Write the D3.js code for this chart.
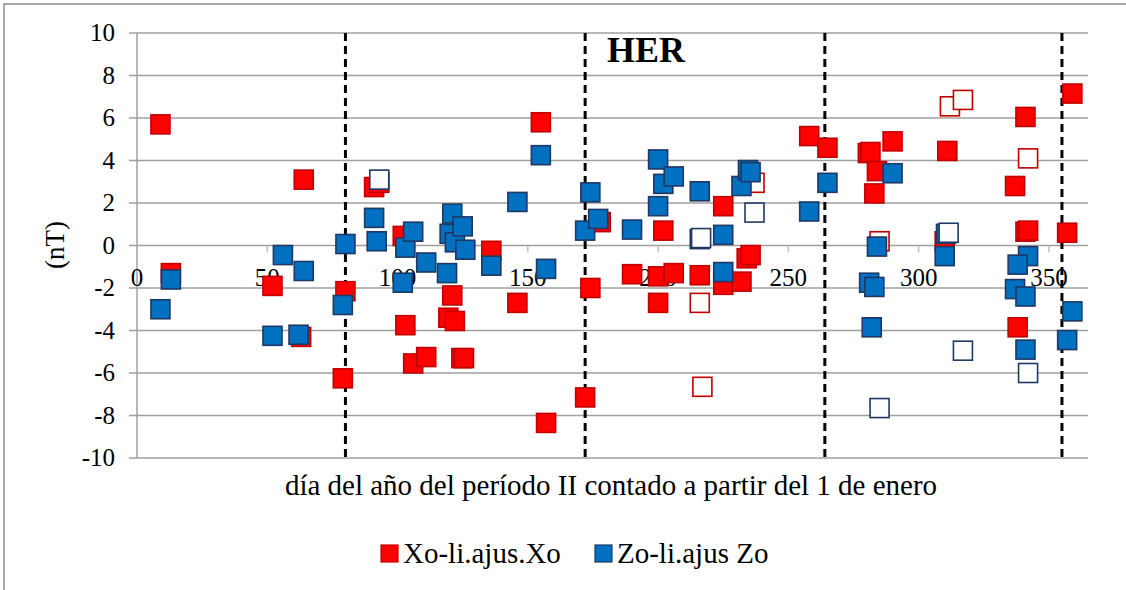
<!DOCTYPE html>
<html>
<head>
<meta charset="utf-8">
<script src="https://cdn.jsdelivr.net/npm/d3@7"></script>
<style>
  body { margin: 0; background: #fff; }
  text { font-family: "Liberation Serif", "Times New Roman", serif; }
</style>
</head>
<body>
<svg id="chart" width="1126" height="590"></svg>
<script>
// values (day of year, nT)
var xoDays = [9, 13, 52, 64, 63, 79, 80, 91, 93, 102, 103, 106, 111, 121, 119.5, 122, 124.5, 125.5, 136, 146,
  155, 157, 172, 174, 178, 190, 202, 200, 206, 200, 216, 225, 225, 232, 234, 235.5, 258, 265, 280.5, 281.5,
  290, 284, 283, 311, 310, 341, 337, 341, 342, 338, 357, 359];
var xoVals = [5.7, -1.3, -1.9, 3.1, -4.3, -6.25, -2.15, 2.75, 2.95, 0.45, -3.75, -5.55, -5.25, -2.35, -3.4, -3.55, -5.3, -5.3, -0.25, -2.7,
  5.8, -8.35, -7.15, -2.0, 1.1, -1.35, 0.7, -1.45, -1.3, -2.7, -1.4, 1.85, -1.85, -1.7, -0.6, -0.45, 5.15, 4.6, 4.35, 4.4,
  4.9, 3.5, 2.45, 4.45, 0.2, 6.05, 2.8, 0.65, 0.7, -3.85, 0.6, 7.15];
var xoHollowDays = [216, 217, 237, 285, 312, 317, 342];
var xoHollowVals = [-2.7, -6.65, 2.95, 0.2, 6.55, 6.85, 4.1];

var zoDays = [9, 13, 52, 56, 64, 62, 79, 80, 91, 92, 103, 106, 102, 111, 121, 120, 122, 125, 126, 119,
  136, 146, 155, 157, 174, 172, 177, 190, 200, 202, 206, 200, 216, 225, 225, 232, 234.5, 235.5, 258, 265,
  290, 284, 281, 283, 282, 310.5, 310, 342, 338, 337, 341, 341, 359, 357];
var zoVals = [-3.0, -1.6, -4.25, -0.45, -1.2, -4.2, -2.8, 0.07, 1.3, 0.2, -0.1, 0.65, -1.75, -0.8, 1.5, 0.55, 0.15, 0.9, -0.2, -1.3,
  -0.95, 2.05, 4.25, -1.1, 2.5, 0.7, 1.25, 0.75, 4.05, 2.9, 3.25, 1.85, 2.55, 0.5, -1.25, 2.8, 3.55, 3.45, 1.6, 2.95,
  3.4, -0.05, -1.75, -1.95, -3.85, 0.55, -0.5, -0.5, -0.9, -2.05, -2.4, -4.9, -3.1, -4.45];
var zoHollowDays = [93, 216, 216.5, 237, 285, 311.5, 317, 342];
var zoHollowVals = [3.1, 0.3, 0.35, 1.55, -7.65, 0.6, -4.95, -6.0];

var periodLines = [80, 172, 264, 355];
var xTicks = [0, 50, 100, 150, 200, 250, 300, 350];
var yTicks = [-10, -8, -6, -4, -2, 0, 2, 4, 6, 8, 10];
var seriesNames = ["Xo-li.ajus.Xo", "Zo-li.ajus Zo"];

var svg = d3.select("#chart");
var gridColor = "#a0a0a0";
var red = "#ff0000", redEdge = "#c00000", blue = "#0070c0", blueEdge = "#1f3864";
var ms = 19;

// outer frame (only the left and top edges show)
svg.append("rect").attr("x", 4).attr("y", 4).attr("width", 1140).attr("height", 600)
  .attr("fill", "none").attr("stroke", "#8c8c8c").attr("stroke-width", 1.5);

var x = d3.scaleLinear().domain([0, 365]).range([137, 1088]);
var y = d3.scaleLinear().domain([-10, 10]).range([458, 33]);

// horizontal grid + y axis ticks
svg.append("g").selectAll("line").data(yTicks).enter().append("line")
  .attr("x1", 129).attr("x2", x(365))
  .attr("y1", function(d) { return y(d); }).attr("y2", function(d) { return y(d); })
  .attr("stroke", gridColor).attr("stroke-width", 1.5);

svg.append("line").attr("x1", x(0)).attr("x2", x(0)).attr("y1", y(10)).attr("y2", y(-10))
  .attr("stroke", gridColor).attr("stroke-width", 1.5);

svg.append("g").selectAll("text").data(yTicks).enter().append("text")
  .attr("x", 115).attr("y", function(d) { return y(d) + 8; })
  .attr("text-anchor", "end").attr("font-size", 25)
  .text(function(d) { return d; });

// x axis crosses at 0: small tick marks below, labels under it
svg.append("g").selectAll("line").data(xTicks.slice(1)).enter().append("line")
  .attr("x1", function(d) { return x(d); }).attr("x2", function(d) { return x(d); })
  .attr("y1", y(0)).attr("y2", y(0) + 7)
  .attr("stroke", "#c0c0c0").attr("stroke-width", 1.5);

svg.append("g").selectAll("text").data(xTicks).enter().append("text")
  .attr("x", function(d) { return x(d); }).attr("y", 286)
  .attr("text-anchor", "middle").attr("font-size", 25)
  .text(function(d) { return d; });

// dashed period separators
svg.append("g").selectAll("line").data(periodLines).enter().append("line")
  .attr("x1", function(d) { return x(d); }).attr("x2", function(d) { return x(d); })
  .attr("y1", y(10)).attr("y2", y(-10))
  .attr("stroke", "#000").attr("stroke-width", 3).attr("stroke-dasharray", "8,5");

function drawSquares(days, vals, fill, edge) {
  svg.append("g").selectAll("rect").data(days).enter().append("rect")
    .attr("x", function(d) { return x(d) - ms / 2; })
    .attr("y", function(d, i) { return y(vals[i]) - ms / 2; })
    .attr("width", ms).attr("height", ms)
    .attr("fill", fill).attr("stroke", edge).attr("stroke-width", 1.6);
}

drawSquares(xoDays, xoVals, red, redEdge);
drawSquares(xoHollowDays, xoHollowVals, "#fff", redEdge);
drawSquares(zoDays, zoVals, blue, blueEdge);
drawSquares(zoHollowDays, zoHollowVals, "#fff", blueEdge);

// texts
svg.append("text").attr("x", 646).attr("y", 62).attr("text-anchor", "middle")
  .attr("font-size", 36).attr("font-weight", "bold").text("HER");

svg.append("text").attr("transform", "translate(64,245)rotate(-90)")
  .attr("text-anchor", "middle").attr("font-size", 27).text("(nT)");

svg.append("text").attr("x", 611).attr("y", 495).attr("text-anchor", "middle")
  .attr("font-size", 29).text("día del año del período II contado a partir del 1 de enero");

// legend
var legend = svg.append("g");
var legX = [381, 595], legFill = [red, blue], legEdge = [redEdge, blueEdge];
seriesNames.forEach(function(name, i) {
  legend.append("rect").attr("x", legX[i]).attr("y", 545).attr("width", 17).attr("height", 17)
    .attr("fill", legFill[i]).attr("stroke", legEdge[i]).attr("stroke-width", 1.2);
  legend.append("text").attr("x", legX[i] + 22).attr("y", 563).attr("font-size", 29).text(name);
});
</script>
</body>
</html>
